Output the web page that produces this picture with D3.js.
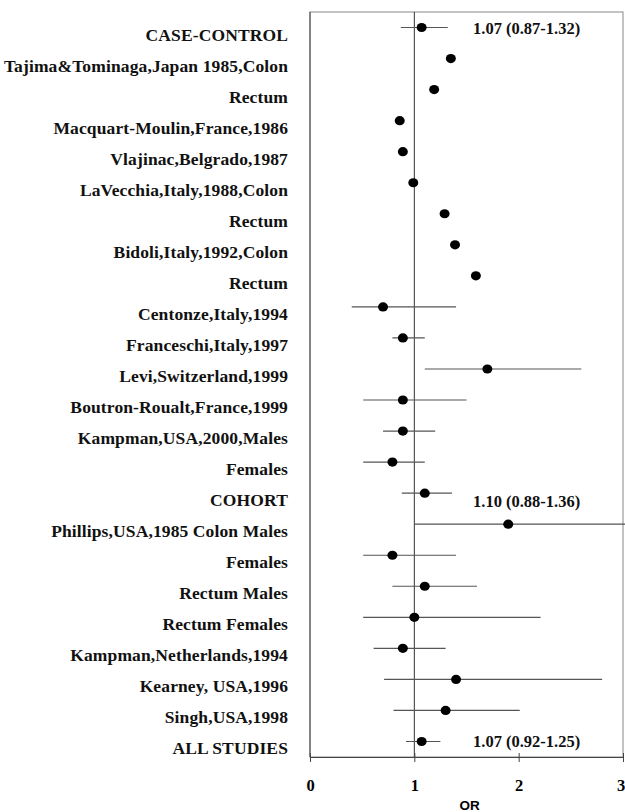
<!DOCTYPE html>
<html>
<head>
<meta charset="utf-8">
<script src="https://cdn.jsdelivr.net/npm/d3@7/dist/d3.min.js"></script>
<style>
  html, body { margin: 0; padding: 0; background: #fff; }
  svg { display: block; }
</style>
</head>
<body>
<svg id="chart" width="625" height="812"></svg>
<script>
// Study labels, top to bottom
const studyLabels = [
  "CASE-CONTROL",
  "Tajima&Tominaga,Japan 1985,Colon",
  "Rectum",
  "Macquart-Moulin,France,1986",
  "Vlajinac,Belgrado,1987",
  "LaVecchia,Italy,1988,Colon",
  "Rectum",
  "Bidoli,Italy,1992,Colon",
  "Rectum",
  "Centonze,Italy,1994",
  "Franceschi,Italy,1997",
  "Levi,Switzerland,1999",
  "Boutron-Roualt,France,1999",
  "Kampman,USA,2000,Males",
  "Females",
  "COHORT",
  "Phillips,USA,1985 Colon Males",
  "Females",
  "Rectum Males",
  "Rectum Females",
  "Kampman,Netherlands,1994",
  "Kearney, USA,1996",
  "Singh,USA,1998",
  "ALL STUDIES"
];

// Odds ratios and 95% confidence limits (null = no interval drawn)
const oddsRatios = [1.07, 1.35, 1.19, 0.86, 0.89, 0.99, 1.29, 1.39, 1.59, 0.70, 0.89, 1.70,
                    0.89, 0.89, 0.79, 1.10, 1.90, 0.79, 1.10, 1.00, 0.89, 1.40, 1.30, 1.07];
const ciLower = [0.87, null, null, null, null, null, null, null, null, 0.40, 0.79, 1.10,
                 0.51, 0.70, 0.51, 0.88, 1.00, 0.51, 0.79, 0.51, 0.61, 0.71, 0.80, 0.92];
const ciUpper = [1.32, null, null, null, null, null, null, null, null, 1.40, 1.10, 2.60,
                 1.50, 1.20, 1.10, 1.36, 3.30, 1.40, 1.60, 2.21, 1.30, 2.80, 2.01, 1.25];

// Pooled estimates that carry a printed value
const summaryRows = [0, 15, 23];
const xTicks = [0, 1, 2, 3];
const xTitle = "OR";

const svg = d3.select("#chart");
const plot = { left: 310, right: 623, top: 12, bottom: 757 };

const x = d3.scaleLinear().domain([0, 3]).range([plot.left, plot.right]);
const y = d3.scalePoint()
  .domain(d3.range(studyLabels.length))
  .range([plot.top, plot.bottom])
  .padding(0.5);

const serif = "'Liberation Serif', 'Times New Roman', serif";

// Frame
svg.append("rect")
  .attr("x", plot.left).attr("y", plot.top)
  .attr("width", plot.right - plot.left).attr("height", plot.bottom - plot.top)
  .attr("fill", "none").attr("stroke", "#888").attr("stroke-width", 1);
svg.append("line")
  .attr("x1", plot.left).attr("x2", plot.left)
  .attr("y1", plot.top).attr("y2", plot.bottom)
  .attr("stroke", "#444");

// Null line at OR = 1
svg.append("line")
  .attr("x1", x(1)).attr("x2", x(1))
  .attr("y1", plot.top).attr("y2", plot.bottom)
  .attr("stroke", "#333").attr("stroke-width", 1);

// Bottom axis
const axis = d3.axisBottom(x).tickValues(xTicks).tickFormat(d3.format("d"))
  .tickSizeInner(5).tickSizeOuter(0).tickPadding(17);
const gAxis = svg.append("g").attr("transform", `translate(0,${plot.bottom})`).call(axis);
gAxis.select(".domain").attr("stroke", "#444");
gAxis.selectAll(".tick line").attr("y1", -4).attr("stroke", "#444");
gAxis.selectAll(".tick text")
  .attr("font-family", serif).attr("font-weight", "bold").attr("font-size", 16.5)
  .attr("fill", "#000")
  .attr("dx", d => d === xTicks[xTicks.length - 1] ? -2.5 : 0);

svg.append("text")
  .attr("x", (plot.left + plot.right) / 2 + 3).attr("y", 810)
  .attr("text-anchor", "middle")
  .attr("font-family", "'Liberation Sans', Arial, sans-serif")
  .attr("font-weight", "bold").attr("font-size", 13.5)
  .text(xTitle);

// Row labels
svg.append("g").selectAll("text")
  .data(studyLabels)
  .join("text")
  .attr("x", 288)
  .attr("y", (d, i) => y(i) + 13)
  .attr("text-anchor", "end")
  .attr("font-family", serif).attr("font-weight", "bold").attr("font-size", 17.5)
  .attr("letter-spacing", 0.12)
  .attr("fill", "#111")
  .text(d => d);

// Confidence intervals
const rows = d3.range(studyLabels.length);
svg.append("g").selectAll("line")
  .data(rows.filter(i => ciLower[i] !== null))
  .join("line")
  .attr("x1", i => x(ciLower[i]))
  .attr("x2", i => x(ciUpper[i]))
  .attr("y1", i => y(i)).attr("y2", i => y(i))
  .attr("stroke", "#555").attr("stroke-width", 1.2);

// Point estimates
svg.append("g").selectAll("ellipse")
  .data(rows)
  .join("ellipse")
  .attr("cx", i => x(oddsRatios[i]))
  .attr("cy", i => y(i))
  .attr("rx", 5).attr("ry", 4.6)
  .attr("fill", "#000");

// Printed pooled estimates
const fmt = d3.format(".2f");
svg.append("g").selectAll("text")
  .data(summaryRows)
  .join("text")
  .attr("x", 473)
  .attr("y", i => y(i) + (i === 15 ? 14 : 6))
  .attr("font-family", serif).attr("font-weight", "bold").attr("font-size", 16.5)
  .attr("fill", "#111")
  .text(i => `${fmt(oddsRatios[i])} (${fmt(ciLower[i])}-${fmt(ciUpper[i])})`);
</script>
</body>
</html>
